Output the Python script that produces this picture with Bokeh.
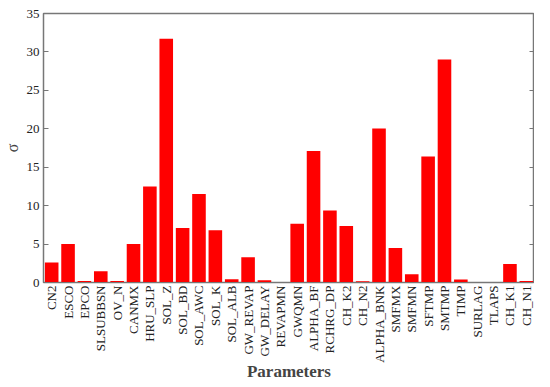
from bokeh.plotting import figure
from bokeh.models import LinearAxis, FixedTicker, Range1d
from bokeh.embed import file_html
from bokeh.resources import INLINE

params = ["CN2", "ESCO", "EPCO", "SLSUBBSN", "OV_N", "CANMX", "HRU_SLP", "SOL_Z",
          "SOL_BD", "SOL_AWC", "SOL_K", "SOL_ALB", "GW_REVAP", "GW_DELAY", "REVAPMN",
          "GWQMN", "ALPHA_BF", "RCHRG_DP", "CH_K2", "CH_N2", "ALPHA_BNK", "SMFMX",
          "SMFMN", "SFTMP", "SMTMP", "TIMP", "SURLAG", "TLAPS", "CH_K1", "CH_N1"]
sigma = [2.6, 5.0, 0.2, 1.47, 0.2, 5.0, 12.5, 31.7,
         7.1, 11.5, 6.8, 0.43, 3.28, 0.3, 0.0,
         7.65, 17.1, 9.38, 7.35, 0.17, 20.05, 4.49,
         1.08, 16.38, 29.0, 0.39, 0.0, 0.0, 2.42, 0.2]
y_ticks = [0, 5, 10, 15, 20, 25, 30, 35]

FONT = "Liberation Serif"

p = figure(x_range=params, y_range=Range1d(0, 35), width=534, height=383,
           output_backend="svg", toolbar_location=None,
           min_border_left=0, min_border_top=13, min_border_right=0,
           min_border_bottom=0)
p.x_range.range_padding = 0
p.vbar(x=params, top=sigma, width=0.83, color="#ff0000", line_color=None)

p.grid.visible = False
p.outline_line_color = "#777777"
p.outline_line_width = 1.5

p.yaxis.ticker = FixedTicker(ticks=y_ticks)
p.yaxis.major_tick_in = 5
p.yaxis.major_tick_out = 0
p.yaxis.minor_tick_line_color = None
p.yaxis.axis_line_color = "#777777"
p.yaxis.major_tick_line_color = "#777777"
p.yaxis.major_label_text_font = FONT
p.yaxis.major_label_text_font_size = "13px"
p.yaxis.major_label_text_color = "#222222"
p.yaxis.major_label_standoff = 4
p.yaxis.axis_label = "σ"
p.yaxis.axis_label_text_font = FONT
p.yaxis.axis_label_text_font_style = "normal"
p.yaxis.axis_label_text_font_size = "16px"
p.yaxis.axis_label_standoff = 3

p.xaxis.major_label_orientation = 1.5708
p.xaxis.major_tick_line_color = None
p.xaxis.major_tick_out = 0
p.xaxis.major_tick_in = 0
p.xaxis.axis_line_color = "#777777"
p.xaxis.major_label_text_font = FONT
p.xaxis.major_label_text_font_size = "13px"
p.xaxis.major_label_text_color = "#222222"
p.xaxis.major_label_standoff = 3
p.xaxis.axis_label = "Parameters"
p.xaxis.axis_label_text_font = FONT
p.xaxis.axis_label_text_font_style = "bold"
p.xaxis.axis_label_text_font_size = "17px"
p.xaxis.axis_label_standoff = -4

right = LinearAxis(ticker=FixedTicker(ticks=y_ticks),
                   major_label_overrides={t: "" for t in y_ticks},
                   major_label_standoff=0, major_label_text_font_size="1px",
                   major_tick_in=5, major_tick_out=0, minor_tick_line_color=None,
                   axis_line_color="#777777", major_tick_line_color="#777777")
p.add_layout(right, "right")

open("out.html", "w").write(file_html(p, INLINE))
